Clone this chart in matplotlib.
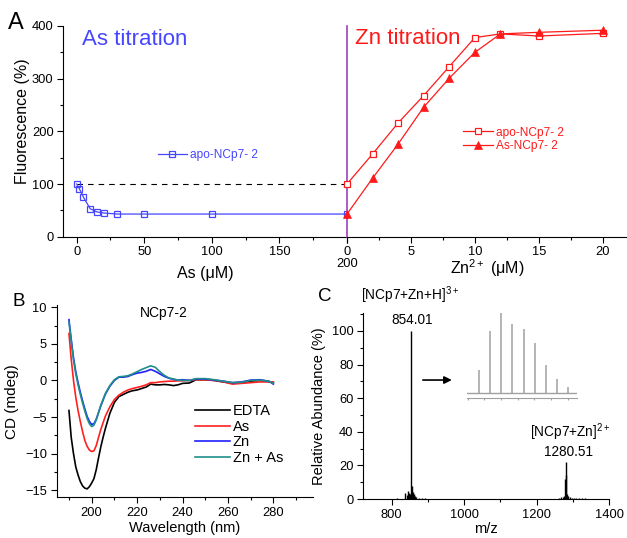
import matplotlib
matplotlib.use('Agg')
from matplotlib import pyplot as plt
from matplotlib.ticker import MultipleLocator

plt.rcParams['font.family'] = ['Liberation Sans', 'DejaVu Sans']
plt.rcParams['mathtext.fontset'] = 'custom'
plt.rcParams['mathtext.rm'] = 'Liberation Sans'
plt.rcParams['mathtext.it'] = 'Liberation Sans:italic'
plt.rcParams['mathtext.bf'] = 'Liberation Sans:bold'
plt.rcParams['axes.linewidth'] = 0.8

# ---- panel A: fluorescence titrations ----
as_conc = [0, 2, 5, 10, 15, 20, 30, 50, 100, 200]
as_fluor = [100, 91, 75, 53, 47, 45, 43, 43, 43, 43]
zn_conc = [0, 2, 4, 6, 8, 10, 12, 15, 20]
apo_fluor = [100, 157, 216, 268, 323, 378, 385, 381, 386]
asncp_fluor = [43, 111, 176, 246, 301, 350, 385, 388, 392]

# ---- panel B: CD spectra ----
wavelength = [190, 191, 192, 193, 194, 195, 196, 197, 198, 199, 200, 201, 202,
              203, 204, 205, 206, 208, 210, 212, 214, 216, 218, 220, 222, 224,
              226, 228, 230, 232, 234, 236, 238, 240, 243, 246, 250, 254, 258,
              262, 266, 270, 274, 278, 280]
cd_edta = [-4.1, -7.8, -10.0, -11.8, -12.9, -13.8, -14.4, -14.7, -14.8, -14.5,
           -14.0, -13.4, -12.2, -10.6, -9.1, -7.8, -6.6, -4.5, -3.0, -2.2, -1.9,
           -1.6, -1.4, -1.3, -1.1, -0.9, -0.5, -0.6, -0.6, -0.55, -0.6, -0.7,
           -0.6, -0.4, -0.35, 0.1, 0.1, 0.0, -0.2, -0.35, -0.3, -0.1, 0.0,
           -0.15, -0.3]
cd_as = [6.4, 2.9, 0.0, -2.3, -4.1, -5.6, -7.0, -8.2, -9.0, -9.5, -9.7, -9.6,
         -8.9, -7.8, -6.7, -5.8, -4.9, -3.6, -2.6, -2.0, -1.6, -1.3, -1.1, -0.95,
         -0.8, -0.6, -0.3, -0.3, -0.2, -0.15, -0.1, -0.1, -0.05, -0.05, 0.0,
         0.1, 0.1, 0.0, -0.2, -0.5, -0.4, -0.3, -0.2, -0.2, -0.2]
cd_zn = [8.3, 5.6, 3.1, 1.2, -0.3, -1.6, -2.8, -3.9, -4.9, -5.6, -6.0, -5.9,
         -5.3, -4.4, -3.5, -2.7, -1.9, -0.8, 0.0, 0.45, 0.45, 0.55, 0.8, 1.0,
         1.1, 1.25, 1.5, 1.25, 0.9, 0.55, 0.3, 0.15, 0.05, 0.1, 0.0, 0.2, 0.2,
         0.05, -0.1, -0.3, -0.2, 0.05, 0.1, -0.1, -0.5]
cd_znas = [8.0, 5.3, 2.8, 0.9, -0.6, -1.9, -3.1, -4.2, -5.2, -5.9, -6.3, -6.1,
           -5.4, -4.4, -3.4, -2.6, -1.8, -0.7, 0.1, 0.5, 0.55, 0.65, 0.9, 1.2,
           1.5, 1.75, 2.0, 1.8, 1.2, 0.7, 0.35, 0.2, 0.05, 0.0, 0.0, 0.25, 0.25,
           0.1, -0.1, -0.3, -0.25, 0.0, 0.05, -0.1, -0.4]
cd_labels = ['EDTA', 'As', 'Zn', 'Zn + As']

# ---- panel C: mass spectrum ----
ms_mz = [815, 836, 842, 845, 848, 850, 852, 854.01, 856, 858, 861, 864, 868,
         875, 885, 893, 1262, 1268, 1272, 1276, 1279.5, 1280.51, 1281.5, 1283,
         1285, 1288, 1292, 1297, 1303, 1310, 1318, 1326, 1333]
ms_int = [0.5, 3.5, 2.5, 4.5, 3.5, 3.0, 2.0, 100, 8.0, 4.0, 3.0, 1.5, 1.0, 0.8,
          0.6, 0.5, 0.6, 1.0, 1.2, 1.5, 12, 22, 14, 3.0, 2.0, 1.5, 1.0, 0.8,
          0.6, 0.5, 0.5, 0.4, 0.4]
iso_mz = [853.34, 853.68, 854.01, 854.34, 854.68, 855.01, 855.35, 855.68, 856.01]
iso_int = [29, 78, 100, 87, 80, 62.5, 35, 17.5, 7.5]

W, H = 627.0, 538.0
blue = '#4646ff'
red = '#ff1a1a'
purple = '#a040c0'


def box(x0, y0, x1, y1):
    return [x0 / W, 1 - y1 / H, (x1 - x0) / W, (y1 - y0) / H]


def style(ax, size=9.3):
    ax.spines['top'].set_visible(False)
    ax.spines['right'].set_visible(False)
    ax.tick_params(which='major', direction='out', length=4, width=0.8,
                   labelsize=size, pad=3)
    ax.tick_params(which='minor', direction='out', length=2.5, width=0.8)


fig = plt.figure(figsize=(W / 100, H / 100), dpi=100)

# ---------------- panel A ----------------
axL = fig.add_axes(box(63.3, 26, 347, 236.7))
style(axL)
axL.plot([0, 200], [100, 100], color='k', lw=0.8, dashes=(5, 4.5))
hb, = axL.plot(as_conc, as_fluor, '-s', color=blue, mfc='none', ms=5,
               mew=0.9, lw=0.9, clip_on=False, label='apo-NCp7- 2')
axL.set_xlim(-9.9, 200)
axL.set_ylim(0, 400)
axL.set_xticks([0, 50, 100, 150, 200])
axL.set_xticklabels(['0', '50', '100', '150', ''])
axL.text(200, -0.128, '200', transform=axL.get_xaxis_transform(),
         ha='center', va='center', fontsize=9.3)
axL.set_yticks([0, 100, 200, 300, 400])
axL.xaxis.set_minor_locator(MultipleLocator(25))
axL.yaxis.set_minor_locator(MultipleLocator(50))
axL.set_xlabel('As (\u03bcM)', fontsize=11.5)
axL.xaxis.set_label_coords(0.5, -0.14)
axL.set_ylabel('Fluorescence (%)', fontsize=11.5)
axL.yaxis.set_label_coords(-0.118, 0.55)
axL.legend(handles=[hb], loc='center left', bbox_to_anchor=(0.334, 0.388),
           frameon=False, fontsize=8.6, handlelength=2.4, handletextpad=0.3,
           borderpad=0, borderaxespad=0, labelcolor=blue)

axR = fig.add_axes(box(347, 26, 627, 236.7))
style(axR)
axR.spines['left'].set_visible(False)
axR.tick_params(axis='y', which='both', left=False, labelleft=False)
axR.set_xlim(0, 21.9)
axR.set_ylim(0, 400)
axR.axvline(0, color=purple, lw=1.2, clip_on=False, zorder=1)
h1, = axR.plot(zn_conc, apo_fluor, '-s', color=red, mfc='white', ms=5,
               mew=0.9, lw=0.9, clip_on=False, label='apo-NCp7- 2', zorder=3)
h2, = axR.plot(zn_conc, asncp_fluor, '-^', color=red, ms=6, mew=0.5, lw=0.9,
               clip_on=False, label='As-NCp7- 2', zorder=3)
axR.set_xticks([0, 5, 10, 15, 20])
axR.xaxis.set_minor_locator(MultipleLocator(2.5))
axR.set_xlabel('Zn$^{2+}$ (\u03bcM)', fontsize=11.5)
axR.xaxis.set_label_coords(0.5, -0.1)
axR.legend(handles=[h1, h2], loc='center left', bbox_to_anchor=(0.414, 0.461),
           frameon=False, fontsize=8.6, handlelength=2.5, handletextpad=0.3,
           borderpad=0, borderaxespad=0, labelspacing=0.15, labelcolor=red)

fig.text(81.7 / W, 1 - 45 / H, 'As titration', color=blue, fontsize=16,
         va='baseline')
fig.text(355 / W, 1 - 44.3 / H, 'Zn titration', color=red, fontsize=16,
         va='baseline')

# ---------------- panel B ----------------
axB = fig.add_axes(box(56.7, 305, 313.3, 497.3))
style(axB)
for vals, col in zip([cd_edta, cd_as, cd_zn, cd_znas],
                     ['black', '#ff2020', '#2020ff', '#208f8a']):
    axB.plot(wavelength, vals, color=col, lw=1.2)
axB.set_xlim(184.6, 297.6)
axB.set_ylim(-15.95, 10.3)
axB.set_xticks([200, 220, 240, 260, 280])
axB.set_yticks([-15, -10, -5, 0, 5, 10])
axB.xaxis.set_minor_locator(MultipleLocator(10))
axB.yaxis.set_minor_locator(MultipleLocator(2.5))
axB.set_xlabel('Wavelength (nm)', fontsize=10.5, labelpad=1.5)
axB.set_ylabel('CD (mdeg)', fontsize=11)
axB.text(231.8, 9.2, 'NCp7-2', ha='center', va='center', fontsize=10)
axB.legend(cd_labels, loc='center left', bbox_to_anchor=(0.539, 0.326),
           frameon=False, fontsize=10.5, handlelength=2.4, handletextpad=0.2,
           borderpad=0, borderaxespad=0, labelspacing=0.12)

# ---------------- panel C ----------------
axC = fig.add_axes(box(363.3, 313, 609, 499))
style(axC)
axC.vlines(ms_mz, 0, ms_int, color='black', lw=1.0)
axC.set_xlim(721.6, 1400)
axC.set_ylim(0, 110.7)
axC.set_xticks([800, 1000, 1200, 1400])
axC.set_yticks([0, 20, 40, 60, 80, 100])
axC.xaxis.set_minor_locator(MultipleLocator(100))
axC.yaxis.set_minor_locator(MultipleLocator(10))
axC.set_xlabel('m/z', fontsize=10.5, labelpad=1)
axC.set_ylabel('Relative Abundance (%)', fontsize=10.5)
axC.text(851, 121.4, '[NCp7+Zn+H]$^{3+}$', ha='center', va='center',
         fontsize=9.8, clip_on=False)
axC.text(856, 106.5, '854.01', ha='center', va='center', fontsize=9.8)
axC.text(1294, 39.5, '[NCp7+Zn]$^{2+}$', ha='center', va='center',
         fontsize=9.8)
axC.text(1289, 28.2, '1280.51', ha='center', va='center', fontsize=9.8)
axC.annotate('', xy=(966, 70.8), xytext=(886, 70.8),
             arrowprops=dict(arrowstyle='-|>', color='black', lw=1.2,
                             mutation_scale=11, shrinkA=0, shrinkB=0))

axI = fig.add_axes(box(466.7, 313.3, 576.7, 397.7))
axI.patch.set_visible(False)
for s in ['top', 'right', 'left']:
    axI.spines[s].set_visible(False)
axI.spines['bottom'].set_color('#a0a0a0')
axI.axhline(0, color='#a0a0a0', lw=1.0)
axI.vlines(iso_mz, 0, iso_int, color='#a0a0a0', lw=1.1)
axI.set_xlim(852.97, 856.27)
axI.set_ylim(-5.5, 100)
axI.set_xticks([853.0, 853.5, 854.0, 854.5, 855.0, 855.5, 856.0])
axI.tick_params(axis='x', direction='out', length=1.5, width=0.8,
                color='#a0a0a0', labelbottom=False)
axI.set_yticks([])

fig.text(8 / W, 1 - 29.3 / H, 'A', fontsize=17, va='baseline')
fig.text(13 / W, 1 - 306 / H, 'B', fontsize=13.5, va='baseline')
fig.text(318 / W, 1 - 300.7 / H, 'C', fontsize=13.5, va='baseline')

fig.savefig('out.png', dpi=100)
